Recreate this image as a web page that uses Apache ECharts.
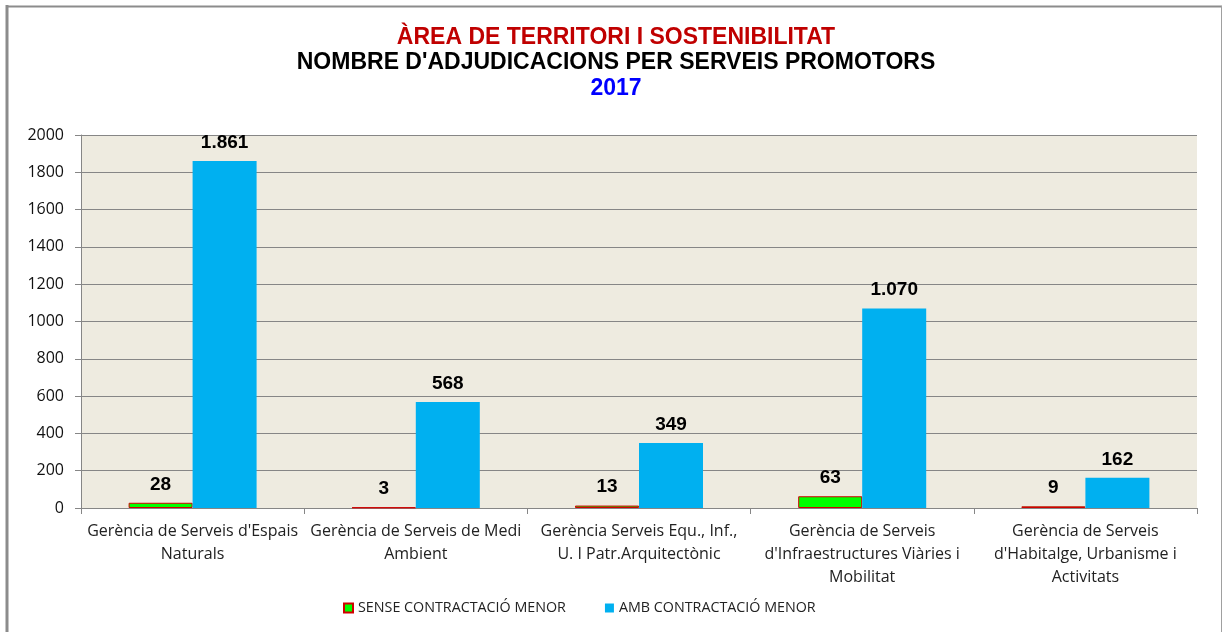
<!DOCTYPE html>
<html>
<head>
<meta charset="utf-8">
<script src="https://cdn.jsdelivr.net/npm/echarts@6/dist/echarts.min.js"></script>
<style>
html,body{margin:0;padding:0;background:#fff;}
#chart{width:1224px;height:632px;}
</style>
</head>
<body>
<div id="chart"></div>
<script>
const categories = [
  "Gerència de Serveis d'Espais\nNaturals",
  "Gerència de Serveis de Medi\nAmbient",
  "Gerència Serveis Equ., Inf.,\nU. I Patr.Arquitectònic",
  "Gerència de Serveis\nd'Infraestructures Viàries i\nMobilitat",
  "Gerència de Serveis\nd'Habitalge, Urbanisme i\nActivitats"
];
const seriesNames = ["SENSE CONTRACTACIÓ MENOR", "AMB CONTRACTACIÓ MENOR"];
const senseValues = [28, 3, 13, 63, 9];
const ambValues = [1861, 568, 349, 1070, 162];
const titleLines = ["ÀREA DE TERRITORI I SOSTENIBILITAT", "NOMBRE D'ADJUDICACIONS PER SERVEIS PROMOTORS", "2017"];

function fmt(v) {
  return String(v).replace(/\B(?=(\d{3})+(?!\d))/g, '.');
}

const chart = echarts.init(document.getElementById('chart'), null, {renderer: 'canvas'});
const labelStyle = {
  show: true,
  position: 'top',
  distance: 9,
  fontFamily: 'Liberation Sans, Arial, sans-serif',
  fontWeight: 'bold',
  fontSize: 19,
  color: '#000',
  formatter: p => fmt(p.value)
};
const titleFont = {fontFamily: 'Liberation Sans, Arial', fontWeight: 'bold', fontSize: 23};
chart.setOption({
  animation: false,
  backgroundColor: '#fff',
  title: [
    {text: titleLines[0], left: 611, textAlign: 'center', top: 21, textStyle: Object.assign({color: '#c00000'}, titleFont)},
    {text: titleLines[1], left: 611, textAlign: 'center', top: 46, textStyle: Object.assign({color: '#000'}, titleFont)},
    {text: titleLines[2], left: 611, textAlign: 'center', top: 72, textStyle: Object.assign({color: '#0000ff'}, titleFont)}
  ],
  legend: {
    bottom: 12,
    left: 338,
    itemGap: 39,
    itemWidth: 9,
    itemHeight: 9,
    icon: 'rect',
    textStyle: {fontFamily: 'Open Sans, sans-serif', fontSize: 14.3, color: '#222'},
    data: seriesNames
  },
  grid: {left: 81, right: 27, top: 135, bottom: 124, backgroundColor: '#eeebe0', show: true, borderWidth: 0},
  xAxis: {
    type: 'category',
    data: categories,
    axisLine: {lineStyle: {color: '#868686', width: 1}},
    axisTick: {show: true, length: 6, lineStyle: {color: '#868686'}},
    axisLabel: {interval: 0, fontFamily: 'Open Sans, sans-serif', fontSize: 16, color: '#222', lineHeight: 23, margin: 12}
  },
  yAxis: {
    type: 'value',
    min: 0, max: 2000, interval: 200,
    axisLine: {show: true, lineStyle: {color: '#868686'}},
    axisTick: {show: true, length: 6, lineStyle: {color: '#868686'}},
    splitLine: {lineStyle: {color: '#868686', width: 1}},
    axisLabel: {fontFamily: 'Open Sans, sans-serif', fontSize: 16, color: '#111', margin: 17, formatter: v => String(v)}
  },
  series: [
    {
      name: seriesNames[0], type: 'bar', data: senseValues, barWidth: 64, barGap: '0%',
      itemStyle: {color: '#00ff00', borderColor: '#d00000', borderWidth: 1},
      label: labelStyle
    },
    {
      name: seriesNames[1], type: 'bar', data: ambValues, barWidth: 64,
      itemStyle: {color: '#00b0f0'},
      label: labelStyle
    }
  ],
  graphic: [
    {type: 'line', shape: {x1: 7, y1: 5, x2: 7, y2: 632}, style: {stroke: '#8c8c8c', lineWidth: 3}},
    {type: 'line', shape: {x1: 6, y1: 6.5, x2: 1222, y2: 6.5}, style: {stroke: '#8c8c8c', lineWidth: 2}},
    {type: 'line', shape: {x1: 1221.5, y1: 6, x2: 1221.5, y2: 632}, style: {stroke: '#a0a0a0', lineWidth: 1}}
  ]
});
</script>
</body>
</html>
